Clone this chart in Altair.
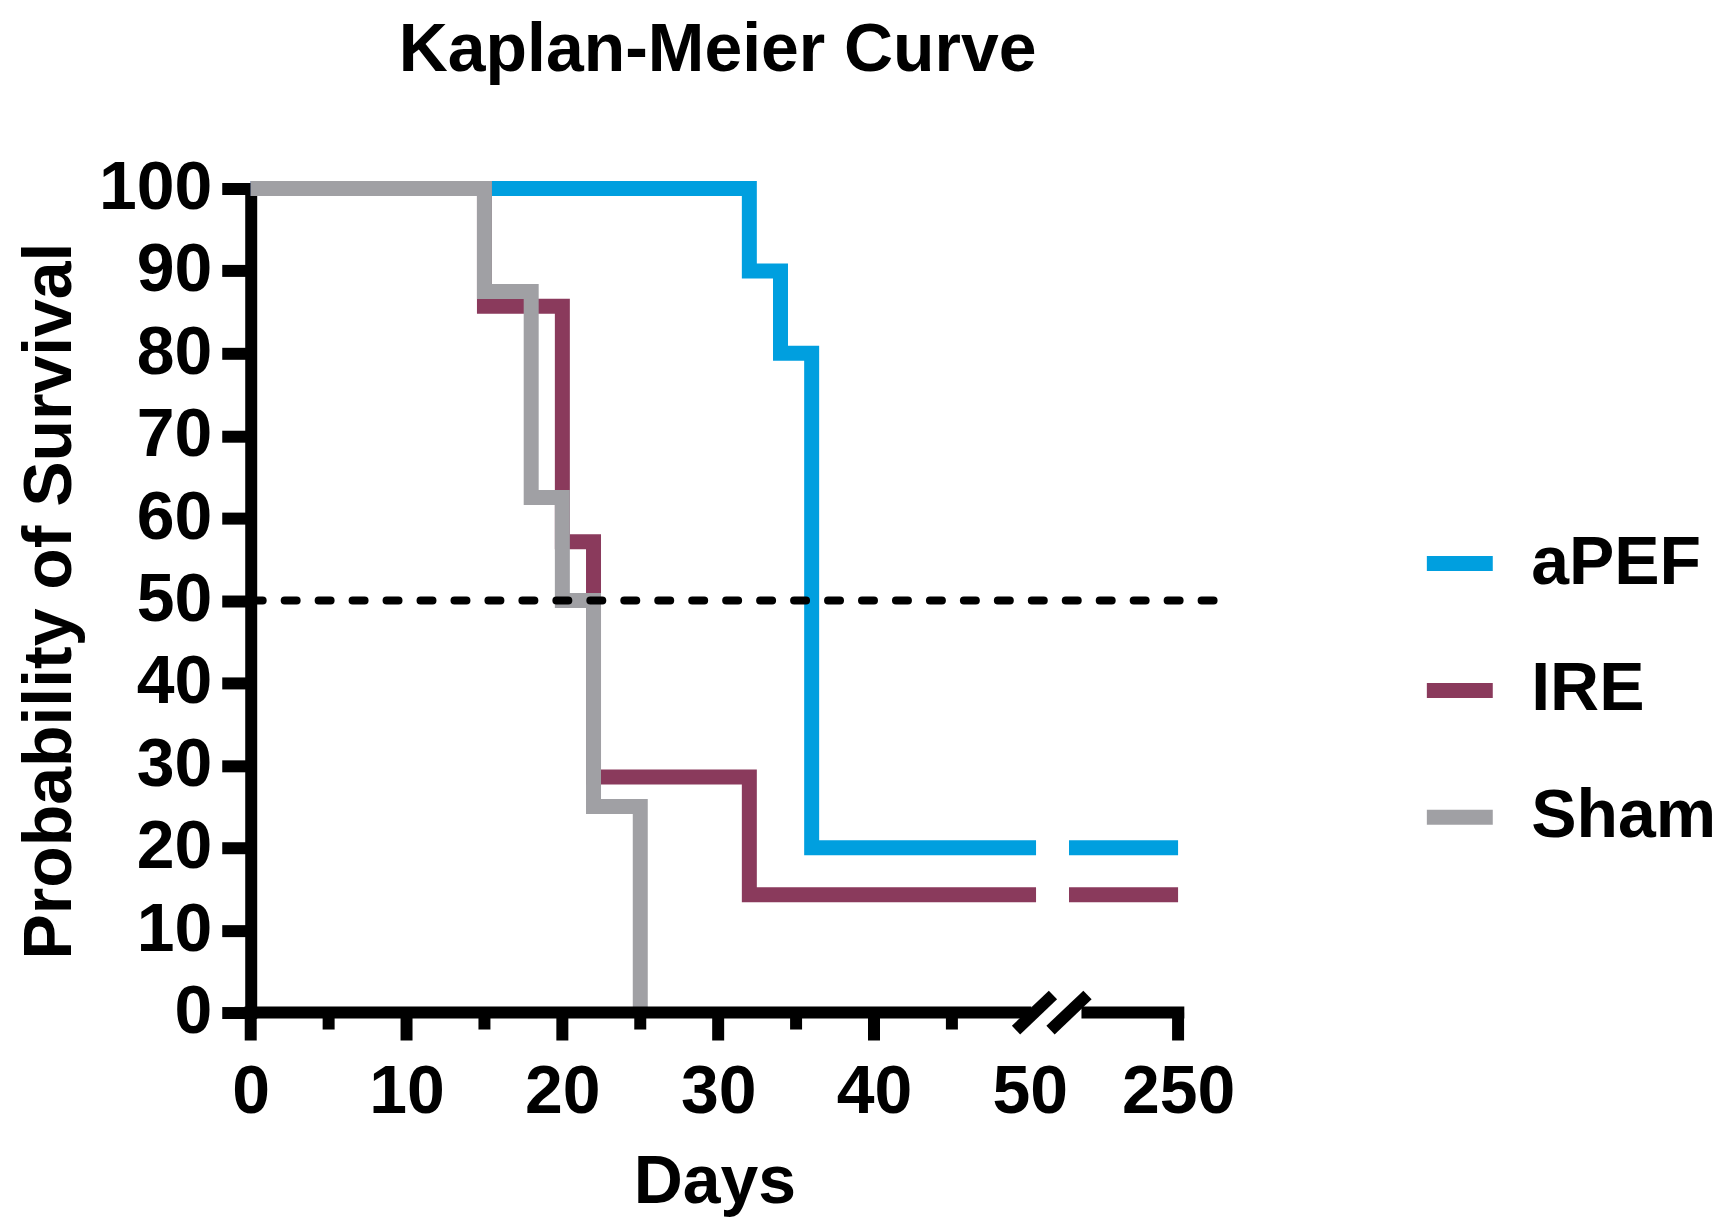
import altair as alt
import pandas as pd

# ---------------- data ----------------
GROUPS = ["aPEF", "IRE", "Sham"]
COLORS = ["#009FDF", "#8A3A5C", "#A0A0A4"]

APEF_DAYS = [0, 32, 34, 36]
APEF_SURV = [100, 90, 80, 20]
APEF_END = 250

IRE_DAYS = [0, 15, 20, 22, 32]
IRE_SURV = [100, 85.71, 57.14, 28.57, 14.29]
IRE_END = 250

SHAM_DAYS = [0, 15, 18, 20, 22, 25]
SHAM_SURV = [100, 87.5, 62.5, 50, 25, 0]
SHAM_END = 25

X_LABELS = [0, 10, 20, 30, 40, 50, 250]
X_MAJOR_TICKS = [0, 10, 20, 30, 40, 250]
X_MINOR_TICKS = [5, 15, 25, 35, 45]
Y_TICKS = [0, 10, 20, 30, 40, 50, 60, 70, 80, 90, 100]
MEDIAN = 50

# ---------------- layout constants ----------------
FONT = "Liberation Sans"
PLOT_W = 935
PLOT_H = 825
PX_PER_DAY = 15.6
GAP_PX = 33
BREAK_LO = 50.4      # left segment of the broken axis ends here
BREAK_HI = 243       # right segment starts here
X_MAX = 250
AXIS_SEGMENTS = [(-0.4, 50.1), (243.8, 250.4)]
SLASHES = [50.3, 243.0]
DASH_END = 252.4

x_range = [0, BREAK_LO * PX_PER_DAY, BREAK_LO * PX_PER_DAY + GAP_PX,
           BREAK_LO * PX_PER_DAY + GAP_PX + (X_MAX - BREAK_HI) * PX_PER_DAY]
xscale = alt.Scale(type="linear", domain=[0, BREAK_LO, BREAK_HI, X_MAX],
                   range=x_range, nice=False, zero=False)
yscale = alt.Scale(domain=[0, 100], nice=False, zero=False)


def step_rows(name, days, surv, end):
    rows = [dict(group=name, seg=0, day=d, surv=s) for d, s in zip(days, surv)]
    if end > days[-1]:
        if end > BREAK_LO:
            rows.append(dict(group=name, seg=0, day=BREAK_LO, surv=surv[-1]))
            rows.append(dict(group=name, seg=1, day=BREAK_HI, surv=surv[-1]))
            rows.append(dict(group=name, seg=1, day=end, surv=surv[-1]))
        else:
            rows.append(dict(group=name, seg=0, day=end, surv=surv[-1]))
    return rows


rows = (step_rows("aPEF", APEF_DAYS, APEF_SURV, APEF_END)
        + step_rows("IRE", IRE_DAYS, IRE_SURV, IRE_END)
        + step_rows("Sham", SHAM_DAYS, SHAM_SURV, SHAM_END))
curves = pd.DataFrame(rows)

x_axis = alt.Axis(values=X_LABELS, ticks=False, tickSize=0, domain=False, grid=False,
                  labelFont=FONT, labelFontSize=68, labelFontWeight="bold",
                  labelColor="black", labelPadding=46, labelFlush=False,
                  title="Days", titleFont=FONT, titleFontSize=68,
                  titleFontWeight="bold", titleColor="black", titlePadding=22)
y_axis = alt.Axis(values=Y_TICKS, grid=False, domain=True, domainColor="black",
                  domainWidth=12, domainCap="square", ticks=True, tickColor="black",
                  tickWidth=12, tickSize=29, labelFont=FONT, labelFontSize=68,
                  labelFontWeight="bold", labelColor="black", labelPadding=10,
                  title="Probability of Survival", titleFont=FONT, titleFontSize=68,
                  titleFontWeight="bold", titleColor="black", titlePadding=14)

color = alt.Color("group:N", scale=alt.Scale(domain=GROUPS, range=COLORS),
                  legend=alt.Legend(orient="none", legendX=1170, legendY=335,
                                    title=None, symbolType="stroke",
                                    symbolSize=66 * 66, symbolStrokeWidth=15,
                                    labelFont=FONT, labelFontSize=68,
                                    labelFontWeight="bold", labelColor="black",
                                    labelOffset=31, labelLimit=0, rowPadding=52,
                                    padding=0, symbolOpacity=1))


def curve_layer(name):
    return alt.Chart(curves).transform_filter(alt.datum.group == name).mark_line(
        interpolate="step-after", strokeWidth=15, strokeJoin="miter", strokeCap="butt"
    ).encode(
        x=alt.X("day:Q", scale=xscale, axis=x_axis),
        y=alt.Y("surv:Q", scale=yscale, axis=y_axis),
        color=color,
        detail="seg:N",
    )


median_df = pd.DataFrame({"x0": [0], "x1": [DASH_END], "y": [MEDIAN]})
median = alt.Chart(median_df).mark_rule(
    color="black", strokeWidth=8, strokeDash=[12, 22], strokeCap="round"
).encode(x=alt.X("x0:Q", scale=xscale, axis=x_axis), x2="x1:Q",
         y=alt.Y("y:Q", scale=yscale, axis=y_axis))

axis_df = pd.DataFrame({"a": [s[0] for s in AXIS_SEGMENTS],
                        "b": [s[1] for s in AXIS_SEGMENTS], "y": [0, 0]})
x_line = alt.Chart(axis_df).mark_rule(color="black", strokeWidth=12, strokeCap="butt").encode(
    x=alt.X("a:Q", scale=xscale, axis=x_axis), x2="b:Q",
    y=alt.Y("y:Q", scale=yscale, axis=y_axis))

major_df = pd.DataFrame({"d": X_MAJOR_TICKS})
major = alt.Chart(major_df).mark_rule(color="black", strokeWidth=12, strokeCap="butt").encode(
    x=alt.X("d:Q", scale=xscale, axis=x_axis),
    y=alt.value(PLOT_H), y2=alt.value(PLOT_H + 28))

minor_df = pd.DataFrame({"d": X_MINOR_TICKS})
minor = alt.Chart(minor_df).mark_rule(color="black", strokeWidth=12, strokeCap="butt").encode(
    x=alt.X("d:Q", scale=xscale, axis=x_axis),
    y=alt.value(PLOT_H), y2=alt.value(PLOT_H + 17))

slash_df = pd.DataFrame({"d": SLASHES, "y": [0, 0]})
slashes = alt.Chart(slash_df).mark_point(
    shape="M -1 0.95 L 1 -0.95", size=37 * 37, strokeWidth=12, filled=False,
    color="black", opacity=1, strokeCap="butt"
).encode(x=alt.X("d:Q", scale=xscale, axis=x_axis),
         y=alt.Y("y:Q", scale=yscale, axis=y_axis))

chart = alt.layer(
    curve_layer("aPEF"), curve_layer("IRE"), curve_layer("Sham"),
    x_line, major, minor, slashes, median
).properties(
    width=PLOT_W, height=PLOT_H,
    background="white",
    view=alt.ViewBackground(stroke="transparent", strokeWidth=0, strokeOpacity=0),
    title=alt.TitleParams("Kaplan-Meier Curve", font=FONT, fontSize=68,
                          fontWeight="bold", color="black", anchor="middle",
                          frame="group", offset=70),
    padding={"left": 8, "top": 8, "right": 5, "bottom": 5},
).configure_view(strokeWidth=0, stroke="transparent", strokeOpacity=0)

chart.save("out.html", embed_options={"renderer": "svg", "actions": False})
